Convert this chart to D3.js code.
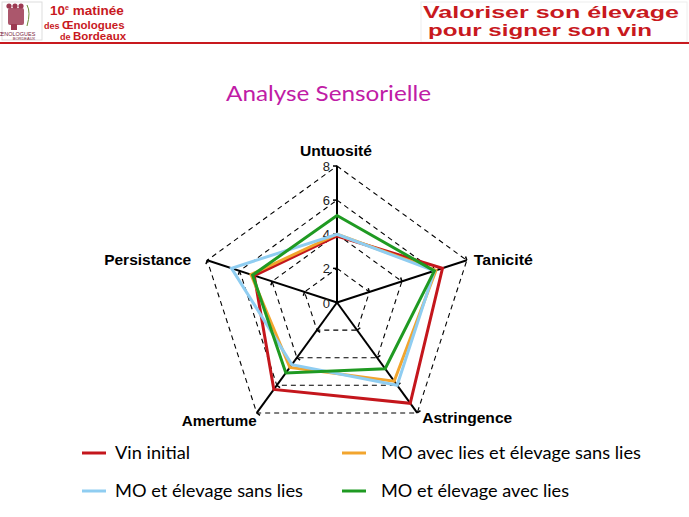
<!DOCTYPE html>
<html>
<head>
<meta charset="utf-8">
<script src="https://cdn.jsdelivr.net/npm/d3@7"></script>
<style>
  body { margin: 0; background: #fff; }
  svg { display: block; }
  .hdr { font-family: "Liberation Sans", Arial, sans-serif; font-weight: bold; fill: #c8191e; }
  .axis-label { font-family: "Liberation Sans", Arial, sans-serif; font-weight: bold; font-size: 14px; fill: #000; }
  .tick-label { font-family: "Liberation Sans", Arial, sans-serif; font-size: 13px; fill: #222; }
  .legend-text { font-family: "Lato", "Open Sans", sans-serif; font-size: 17px; fill: #000; }
</style>
</head>
<body>
<svg id="chart" width="689" height="517"></svg>
<script>
// axes du radar (sens horaire depuis le haut)
const axes = ['Untuosité', 'Tanicité', 'Astringence', 'Amertume', 'Persistance'];
const levels = [0, 2, 4, 6, 8];

const vinInitial   = [3.9, 6.5, 7.3, 6.3, 5.1];
const moSansLies   = [4.0, 6.0, 6.0, 4.5, 6.5];
const moAvecLiesEl = [4.0, 6.1, 5.7, 4.7, 5.3];
const moAvecLies   = [5.1, 6.0, 4.8, 5.1, 5.2];

const seriesNames = ['Vin initial', 'MO avec lies et élevage sans lies', 'MO et élevage sans lies', 'MO et élevage avec lies'];
const seriesValues = [vinInitial, moAvecLiesEl, moSansLies, moAvecLies];
const seriesColors = ['#c4161c', '#f2a52e', '#8fcdf1', '#1f9a22'];

const svg = d3.select('#chart');

// ---- en-tête
const head = svg.append('g');
head.append('rect').attr('x', 2).attr('y', 2).attr('width', 40).attr('height', 38)
  .attr('fill', '#fff').attr('stroke', '#ddd');
// petit logo
const logo = head.append('g').attr('fill', '#9c3a52');
[[9, 4], [15, 4], [21, 4]].forEach(([x, y]) => logo.append('circle').attr('cx', x).attr('cy', y + 2).attr('r', 2.6));
logo.append('rect').attr('x', 8).attr('y', 8).attr('width', 16).attr('height', 17).attr('rx', 2).attr('opacity', 0.85);
logo.append('rect').attr('x', 11).attr('y', 24).attr('width', 6).attr('height', 6);
logo.append('path').attr('d', 'M27,5 Q31,12 27,26').attr('fill', 'none').attr('stroke', '#6b8d3a').attr('stroke-width', 1);
head.append('text').attr('x', 17).attr('y', 36).attr('text-anchor', 'middle')
  .attr('font-family', 'Liberation Sans, Arial').attr('font-size', 5.5).attr('fill', '#7a2540').text('ŒNOLOGUES');
head.append('text').attr('x', 24).attr('y', 40).attr('text-anchor', 'middle')
  .attr('font-family', 'Liberation Sans, Arial').attr('font-size', 4).attr('fill', '#7a2540').text('BORDEAUX');

head.append('text').attr('class', 'hdr').attr('x', 50).attr('y', 15).attr('font-size', 13.5)
  .call(t => {
    t.append('tspan').text('10');
    t.append('tspan').attr('font-size', 7).attr('dy', -5).text('e');
    t.append('tspan').attr('dy', 5).text(' matinée');
  });
head.append('text').attr('class', 'hdr').attr('x', 44).attr('y', 28.5)
  .attr('font-weight', 'normal').attr('font-size', 11.5)
  .call(t => { t.append('tspan').attr('font-size', 9).text('des '); t.append('tspan').text('Œnologues'); });
head.append('text').attr('class', 'hdr').attr('x', 60).attr('y', 40)
  .attr('font-weight', 'normal').attr('font-size', 11.5)
  .call(t => { t.append('tspan').attr('font-size', 9).text('de '); t.append('tspan').text('Bordeaux'); });

head.append('rect').attr('x', 421).attr('y', 2).attr('width', 266).attr('height', 40)
  .attr('fill', '#fff').attr('stroke', '#eee');
head.append('text').attr('class', 'hdr').attr('x', 423).attr('y', 17.5).attr('font-size', 17)
  .attr('textLength', 256).attr('lengthAdjust', 'spacingAndGlyphs').text('Valoriser son élevage');
head.append('text').attr('class', 'hdr').attr('x', 428).attr('y', 36).attr('font-size', 17)
  .attr('textLength', 224).attr('lengthAdjust', 'spacingAndGlyphs').text('pour signer son vin');
head.append('rect').attr('x', 0).attr('y', 42).attr('width', 689).attr('height', 2).attr('fill', '#c8191e');

// ---- titre
svg.append('text').attr('x', 226).attr('y', 101)
  .attr('font-family', 'Lato, "Open Sans", sans-serif').attr('font-size', 22)
  .attr('textLength', 205).attr('lengthAdjust', 'spacingAndGlyphs')
  .attr('fill', '#c01ca6').text('Analyse Sensorielle');

// ---- radar
const cx = 337, cy = 302.5;
const r = d3.scaleLinear().domain([0, 8]).range([0, 136.5]);
const angle = d3.scalePoint().domain(axes).range([0, 2 * Math.PI * 4 / 5]);
const pt = (ax, v) => [cx + r(v) * Math.sin(angle(ax)), cy - r(v) * Math.cos(angle(ax))];

const radar = svg.append('g');

// grilles en pointillé
radar.selectAll('path.grid')
  .data(levels.filter(l => l > 0))
  .join('path')
  .attr('class', 'grid')
  .attr('d', l => d3.line()(axes.map(a => pt(a, l))) + 'Z')
  .attr('fill', 'none')
  .attr('stroke', '#000')
  .attr('stroke-width', 1.1)
  .attr('stroke-dasharray', '5,4');

// axes
radar.selectAll('line.axis')
  .data(axes)
  .join('line')
  .attr('class', 'axis')
  .attr('x1', cx).attr('y1', cy)
  .attr('x2', a => pt(a, 8)[0]).attr('y2', a => pt(a, 8)[1])
  .attr('stroke', '#000').attr('stroke-width', 2);

// graduations
const ticks = [];
axes.forEach(a => levels.filter(l => l > 0).forEach(l => ticks.push({ a, l })));
radar.selectAll('line.tick')
  .data(ticks)
  .join('line')
  .attr('class', 'tick')
  .each(function (d) {
    const [x, y] = pt(d.a, d.l);
    const th = angle(d.a);
    const px = -Math.cos(th) * 4, py = -Math.sin(th) * 4;
    d3.select(this).attr('x1', x).attr('y1', y).attr('x2', x + px).attr('y2', y + py);
  })
  .attr('stroke', '#000').attr('stroke-width', 1.5);

radar.selectAll('text.tick-label')
  .data(levels)
  .join('text')
  .attr('class', 'tick-label')
  .attr('x', cx - 7)
  .attr('y', l => cy - r(l) + 5)
  .attr('text-anchor', 'end')
  .text(l => l);

// séries
const line = d3.line().curve(d3.curveLinearClosed);
radar.selectAll('path.serie')
  .data(seriesValues)
  .join('path')
  .attr('class', 'serie')
  .attr('d', vals => line(vals.map((v, i) => pt(axes[i], v))))
  .attr('fill', 'none')
  .attr('stroke', (d, i) => seriesColors[i])
  .attr('stroke-width', 3)
  .attr('stroke-linejoin', 'miter');

// libellés des axes
const labelPos = {
  'Untuosité':   { dx: -37, dy: -10, w: 72 },
  'Tanicité':    { dx: 7, dy: 5, w: 59 },
  'Astringence': { dx: 5, dy: 10, w: 90 },
  'Amertume':    { dx: -75, dy: 13, w: 75 },
  'Persistance': { dx: -103, dy: 5, w: 87 }
};
radar.selectAll('text.axis-label')
  .data(axes)
  .join('text')
  .attr('class', 'axis-label')
  .attr('x', a => pt(a, 8)[0] + labelPos[a].dx)
  .attr('y', a => pt(a, 8)[1] + labelPos[a].dy)
  .attr('textLength', a => labelPos[a].w)
  .attr('lengthAdjust', 'spacingAndGlyphs')
  .text(a => a);

// ---- légende
const legendOrder = [0, 1, 2, 3];
const legendWidth = [75, 260, 188, 188];
const legend = svg.append('g');
const item = legend.selectAll('g.item')
  .data(legendOrder)
  .join('g')
  .attr('class', 'item')
  .attr('transform', (d, k) => `translate(${k % 2 ? 342 : 82},${k < 2 ? 453 : 491})`);
item.append('line').attr('x1', 0).attr('x2', 24).attr('y1', 0).attr('y2', 0)
  .attr('stroke', d => seriesColors[d]).attr('stroke-width', 3);
item.append('text').attr('class', 'legend-text')
  .attr('x', (d, k) => k % 2 ? 39 : 33).attr('y', 6)
  .attr('textLength', (d, k) => legendWidth[k])
  .attr('lengthAdjust', 'spacingAndGlyphs')
  .text(d => seriesNames[d]);
</script>
</body>
</html>
